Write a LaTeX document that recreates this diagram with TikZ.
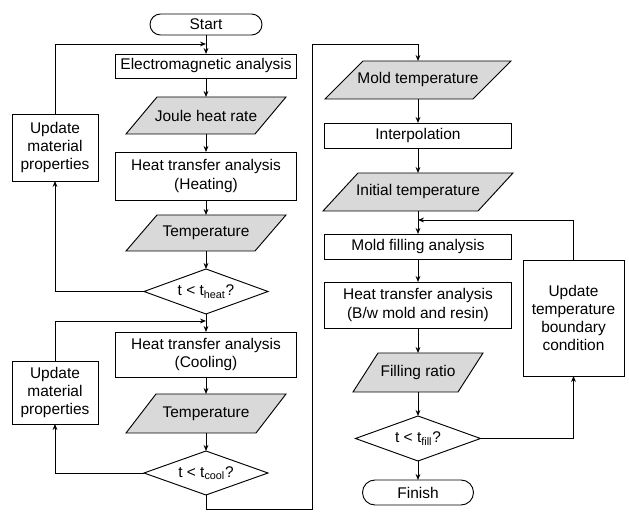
\documentclass[tikz,border=0pt]{standalone}
\usepackage{fontspec}
\setmainfont{Liberation Sans}
\usetikzlibrary{shapes.geometric,arrows.meta}
% \mydata{name}{x}{y}{w}{h}{slant}{text}
\newcommand\mydata[7]{%
  \draw[databody] ({#2-#4/2},{#3+#5/2}) -- ({#2-#4/2+#6},{#3-#5/2}) -- ({#2+#4/2},{#3-#5/2}) -- ({#2+#4/2-#6},{#3+#5/2}) -- cycle;
  \node[minimum width={(#4-#6)*0.75pt},minimum height={#5*0.75pt}] (#1) at (#2,#3) {#7};}
\begin{document}
\begin{tikzpicture}[x=0.75pt,y=-0.75pt,
  font=\fontsize{11.6}{13.7}\selectfont,
  line width=0.7pt,
  every node/.style={inner sep=0pt,outer sep=0pt,align=center},
  databody/.style={draw,fill=gray!30},
  procbox/.style 2 args={draw,fill=white,rectangle,minimum width=#1*0.75pt,minimum height=#2*0.75pt},
  decbox/.style 2 args={draw,fill=white,diamond,aspect=2.75,minimum width=#1*0.75pt,minimum height=#2*0.75pt},
  termbox/.style 2 args={draw,fill=white,rectangle,rounded corners=#2*0.375pt,minimum width=#1*0.75pt,minimum height=#2*0.75pt},
  arr/.style={-{Stealth[length=4.5pt,width=3.6pt]}},
]
\useasboundingbox (0,0) rectangle (629,513);
% left column
\node[termbox={112}{21}] (start) at (206,24.5) {Start};
\node[procbox={181}{24}] (em) at (206,66) {Electromagnetic analysis};
\mydata{joule}{206}{115.5}{160}{37}{31}{Joule heat rate}
\node[procbox={181}{48}] (heat) at (206,176) {Heat transfer analysis\\(Heating)};
\mydata{temp1}{206}{233}{160}{36}{31}{Temperature}
\node[decbox={124}{45}] (dheat) at (206,291.5) {t < t\textsubscript{heat}?};
\node[procbox={86}{67}] (upd1) at (55,147.5) {Update\\material\\properties};
\node[procbox={181}{45}] (cool) at (206,354.5) {Heat transfer analysis\\(Cooling)};
\mydata{temp2}{206}{413.5}{160}{39}{30}{Temperature}
\node[decbox={124}{44}] (dcool) at (206,473) {t < t\textsubscript{cool}?};
\node[procbox={86}{63}] (upd2) at (55,392.5) {Update\\material\\properties};
% right column
\mydata{mold}{418}{80}{186}{38}{38}{Mold temperature}
\node[procbox={187}{25}] (interp) at (418,135.5) {Interpolation};
\mydata{init}{418}{192}{190}{38}{35}{Initial temperature}
\node[procbox={187}{25}] (fill) at (418,246.5) {Mold filling analysis};
\node[procbox={187}{46}] (htb) at (418,305) {Heat transfer analysis\\(B/w mold and resin)};
\mydata{fratio}{418}{372.5}{130}{39}{25}{Filling ratio}
\node[decbox={125}{45}] (dfill) at (418,438.5) {t < t\textsubscript{fill}?};
\node[termbox={111}{25}] (finish) at (418,492.5) {Finish};
\node[procbox={101}{116}] (updt) at (573.5,318) {Update\\temperature\\boundary\\condition};
% junction points
\coordinate (j1) at (206,44);
\coordinate (j2) at (206,321);
\coordinate (j3) at (418,220);
\coordinate (c1) at (312,509);
\coordinate (c2) at (312,44);
% connectors left
\draw[arr] (start.south) -- (em.north);
\draw[arr] (em.south) -- (joule.north);
\draw[arr] (joule.south) -- (heat.north);
\draw[arr] (heat.south) -- (temp1.north);
\draw[arr] (temp1.south) -- (dheat.north);
\draw[arr] (dheat.west) -| (upd1.south);
\draw[arr] (upd1.north) |- (j1);
\draw[arr] (dheat.south) -- (cool.north);
\draw[arr] (cool.south) -- (temp2.north);
\draw[arr] (temp2.south) -- (dcool.north);
\draw[arr] (dcool.west) -| (upd2.south);
\draw[arr] (upd2.north) |- (j2);
\draw[arr] (dcool.south) |- (c1) -- (c2) -| (mold.north);
% connectors right
\draw[arr] (mold.south) -- (interp.north);
\draw[arr] (interp.south) -- (init.north);
\draw[arr] (init.south) -- (fill.north);
\draw[arr] (fill.south) -- (htb.north);
\draw[arr] (htb.south) -- (fratio.north);
\draw[arr] (fratio.south) -- (dfill.north);
\draw[arr] (dfill.south) -- (finish.north);
\draw[arr] (dfill.east) -| (updt.south);
\draw[arr] (updt.north) |- (j3);
\end{tikzpicture}
\end{document}
